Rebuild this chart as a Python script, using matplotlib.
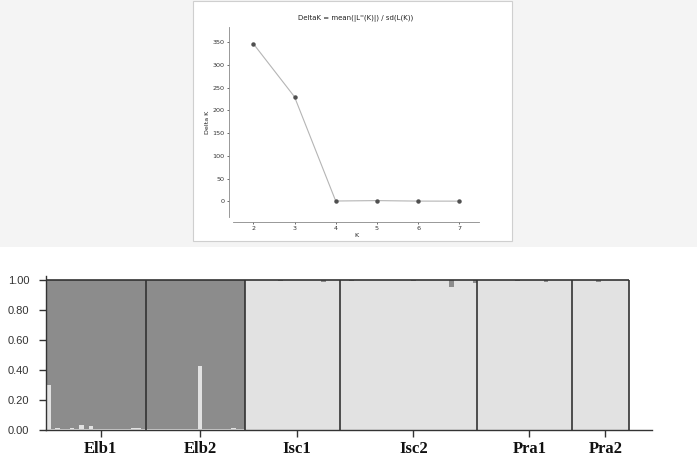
import matplotlib
matplotlib.use("Agg")
import matplotlib.pyplot as plt
from matplotlib.patches import Rectangle
import numpy as np

# ---- Evanno DeltaK ----
k_values = [2, 3, 4, 5, 6, 7]
delta_k = [347, 230, 0.6, 1.5, 0.4, 0.3]
dk_yticks = [0, 50, 100, 150, 200, 250, 300, 350]

# ---- STRUCTURE bar plot (K = 2) ----
pops = ["Elb1", "Elb2", "Isc1", "Isc2", "Pra1", "Pra2"]
pop_sizes = [21, 21, 20, 29, 20, 12]
# membership of the light cluster, per individual
q_elb1 = [0.30, 0.005, 0.015, 0.005, 0.008, 0.012, 0.005, 0.035, 0.01, 0.025, 0.005,
          0.01, 0.004, 0.004, 0.008, 0.004, 0.004, 0.006, 0.012, 0.012, 0.004]
q_elb2 = [0.004, 0.01, 0.004, 0.004, 0.004, 0.004, 0.004, 0.004, 0.004, 0.004, 0.004,
          0.43, 0.004, 0.004, 0.004, 0.004, 0.004, 0.004, 0.012, 0.004, 0.004]
q_isc1 = [0.998, 0.998, 0.998, 0.998, 0.998, 0.998, 0.998, 0.994, 0.998, 0.998,
          0.998, 0.998, 0.998, 0.998, 0.998, 0.998, 0.985, 0.998, 0.998, 0.998]
q_isc2 = [0.998, 0.998, 0.994, 0.998, 0.998, 0.998, 0.998, 0.998, 0.998, 0.998,
          0.998, 0.998, 0.998, 0.998, 0.998, 0.994, 0.998, 0.998, 0.998, 0.998,
          0.998, 0.998, 0.998, 0.955, 0.998, 0.998, 0.998, 0.998, 0.982]
q_pra1 = [0.998, 0.998, 0.998, 0.998, 0.998, 0.998, 0.998, 0.998, 0.994, 0.998,
          0.998, 0.998, 0.998, 0.998, 0.985, 0.998, 0.998, 0.998, 0.998, 0.998]
q_pra2 = [0.998, 0.998, 0.998, 0.998, 0.998, 0.986, 0.998, 0.998, 0.998, 0.998,
          0.998, 0.998]
struct_yticks = [0.0, 0.2, 0.4, 0.6, 0.8, 1.0]

DARK = "#8c8c8c"
LIGHT = "#e2e2e2"

W, H = 697, 459
fig = plt.figure(figsize=(W / 100, H / 100), dpi=100)
fig.patch.set_facecolor("white")


def box(x0, y0, x1, y1):
    # pixel box (top-left origin) -> figure fraction rect
    return [x0 / W, 1 - y1 / H, (x1 - x0) / W, (y1 - y0) / H]


# grey band behind the DeltaK panel
fig.patches.append(Rectangle((0, 1 - 247 / H), 1, 247 / H, transform=fig.transFigure,
                             facecolor="#f4f4f4", edgecolor="none", zorder=-3))
# white framed panel
fig.patches.append(Rectangle((193 / W, 1 - 241 / H), 319 / W, 240 / H,
                             transform=fig.transFigure, facecolor="white",
                             edgecolor="#cfcfcf", linewidth=0.8, zorder=-2))

# ---- DeltaK plot ----
ax1 = fig.add_axes(box(233, 27, 479, 217))
ax1.set_facecolor("none")
ax1.plot(k_values, delta_k, color="#b5b5b5", lw=0.8, zorder=2)
ax1.plot(k_values, delta_k, "o", color="#505050", ms=2.2, zorder=3)
ax1.set_xlim(1.507, 7.478)
ax1.set_ylim(-34.6, 383.7)
ax1.set_xticks(k_values)
ax1.set_yticks(dk_yticks)
ax1.tick_params(labelsize=4.6, colors="#333333", length=1.5, width=0.5, pad=1.5)
for s in ["top", "right"]:
    ax1.spines[s].set_visible(False)
ax1.spines["left"].set_position(("outward", 2.9))
ax1.spines["bottom"].set_position(("outward", 3.6))
for s in ["left", "bottom"]:
    ax1.spines[s].set_color("#888888")
    ax1.spines[s].set_linewidth(0.6)
ax1.set_title("DeltaK = mean(|L''(K)|) / sd(L(K))", fontsize=5, color="#222222", pad=5)
ax1.set_xlabel("K", fontsize=4.6, color="#222222", labelpad=1)
ax1.set_ylabel("Delta K", fontsize=4.6, color="#222222", labelpad=2)

# ---- STRUCTURE plot ----
q_all = np.concatenate([q_elb1, q_elb2, q_isc1, q_isc2, q_pra1, q_pra2])
n_ind = len(q_all)
ax2 = fig.add_axes(box(46, 276, 652, 430))
x = np.arange(n_ind) + 0.5
ax2.bar(x, q_all, width=1.0, color=LIGHT, edgecolor="none", zorder=2)
ax2.bar(x, 1 - q_all, width=1.0, bottom=q_all, color=DARK, edgecolor="none", zorder=2)

starts = np.concatenate([[0], np.cumsum(pop_sizes)])
ax2.vlines(starts[1:], 0, 1, color="#333333", lw=1.2, zorder=3)
ax2.hlines(1, 0, n_ind, color="#333333", lw=1.2, zorder=3)

ax2.set_xlim(0, n_ind * 606 / 583)
ax2.set_ylim(0, 1.027)
ticks = starts[:-1] + np.array(pop_sizes) / 2 + 1
ax2.set_xticks(ticks)
ax2.set_xticklabels(pops, family="Liberation Serif", fontweight="bold", fontsize=12,
                    color="#111111")
ax2.set_yticks(struct_yticks)
ax2.set_yticklabels([f"{v:.2f}" for v in struct_yticks], family="Liberation Sans",
                    fontsize=8, color="#333333")
ax2.tick_params(axis="x", length=5, width=1, color="#333333", pad=3)
ax2.tick_params(axis="y", length=5, width=1, color="#333333", pad=7)
for s in ["top", "right"]:
    ax2.spines[s].set_visible(False)
for s in ["left", "bottom"]:
    ax2.spines[s].set_color("#333333")
    ax2.spines[s].set_linewidth(1.0)
ax2.set_facecolor("white")

fig.savefig("out.png", dpi=100)
